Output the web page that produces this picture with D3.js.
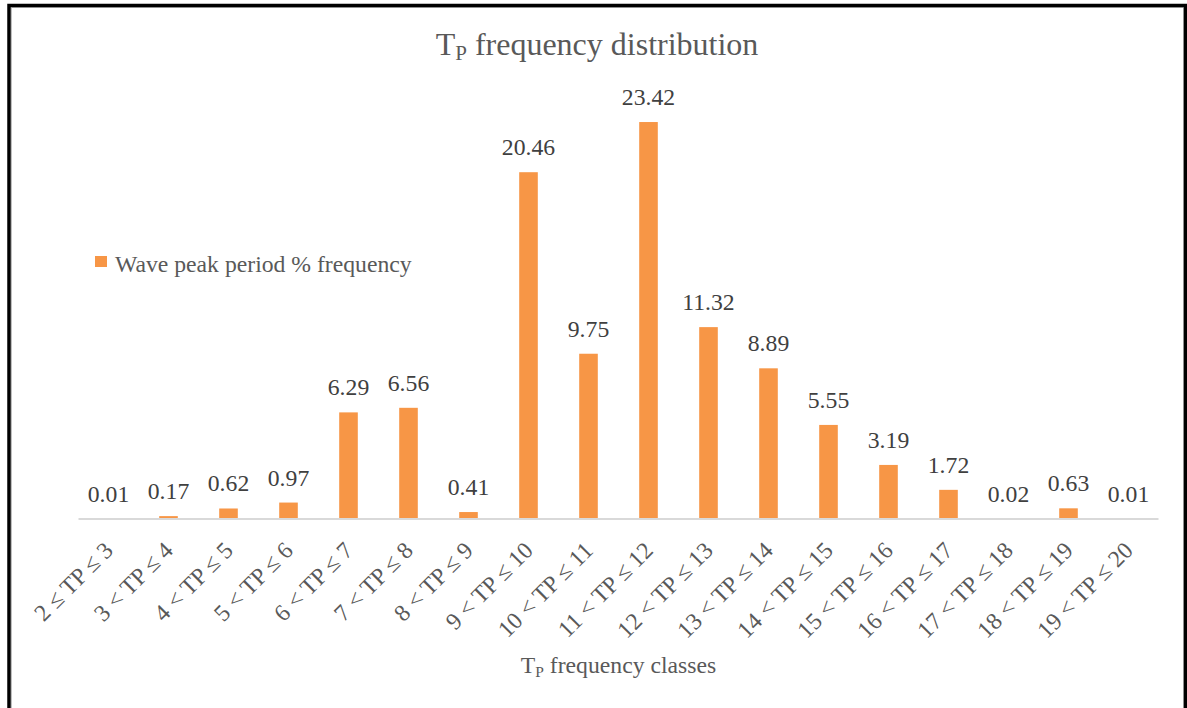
<!DOCTYPE html>
<html>
<head>
<meta charset="utf-8">
<script src="https://cdn.jsdelivr.net/npm/d3@7"></script>
<style>
  html, body { margin: 0; padding: 0; background: #fff; }
  svg { display: block; }
  svg text { font-family: "Liberation Serif", "Times New Roman", Times, serif; }
</style>
</head>
<body>
<svg id="chart" width="1187" height="708"></svg>
<script>
// Wave peak period (Tp) classes and their % frequency
const classes = [
  "2 ≤ TP ≤ 3", "3 < TP ≤ 4", "4 < TP ≤ 5", "5 < TP ≤ 6", "6 < TP ≤ 7",
  "7 < TP ≤ 8", "8 < TP ≤ 9", "9 < TP ≤ 10", "10 < TP ≤ 11", "11 < TP ≤ 12",
  "12 < TP ≤ 13", "13 < TP ≤ 14", "14 < TP ≤ 15", "15 < TP ≤ 16", "16 < TP ≤ 17",
  "17 < TP ≤ 18", "18 < TP ≤ 19", "19 < TP ≤ 20"
];
const frequency = [
  0.01, 0.17, 0.62, 0.97, 6.29,
  6.56, 0.41, 20.46, 9.75, 23.42,
  11.32, 8.89, 5.55, 3.19, 1.72,
  0.02, 0.63, 0.01
];
const seriesName = "Wave peak period % frequency";

const FONT = "'Liberation Serif', 'Times New Roman', Times, serif";
const svg = d3.select("#chart");
const W = 1187, H = 708;
const plot = { left: 78.5, right: 1158.5, top: 95.25, bottom: 519 };
const barColor = "#f79646";
const textGrey = "#595959";
const labelDark = "#404040";
const fs = 23.7;

// outer frame
svg.append("rect").attr("x", 0).attr("y", 0).attr("width", W).attr("height", H).attr("fill", "#fff");
svg.append("path")
  .attr("d", `M11.5,${H} V7.5 H1183.5 V${H}`)
  .attr("fill", "none").attr("stroke", "#bfbfbf").attr("stroke-width", 1);
svg.append("path")
  .attr("d", `M9,${H} V5.5 H1185.5 V${H}`)
  .attr("fill", "none").attr("stroke", "#000").attr("stroke-width", 3.5);

const x = d3.scaleBand().domain(classes).range([plot.left, plot.right]).paddingInner(0.69).paddingOuter(0.345);
const y = d3.scaleLinear().domain([0, 25]).range([plot.bottom, plot.top]);

// title
const title = svg.append("text")
  .attr("x", 597).attr("y", 55)
  .attr("text-anchor", "middle")
  .attr("font-family", FONT)
  .attr("fill", textGrey)
  .attr("font-size", 32);
title.append("tspan").text("T");
title.append("tspan").attr("font-size", 21).attr("dy", 5).text("P");
title.append("tspan").attr("dy", -5).text(" frequency distribution");

// bars
svg.append("g").selectAll("rect")
  .data(frequency)
  .join("rect")
  .attr("x", (d, i) => x(classes[i]))
  .attr("width", x.bandwidth())
  .attr("y", d => y(d))
  .attr("height", d => y(0) - y(d))
  .attr("fill", barColor);

// value labels
svg.append("g").selectAll("text")
  .data(frequency)
  .join("text")
  .attr("x", (d, i) => x(classes[i]) + x.bandwidth() / 2)
  .attr("y", d => y(d) - 17)
  .attr("text-anchor", "middle")
  .attr("font-family", FONT)
  .attr("font-size", fs)
  .attr("fill", labelDark)
  .text(d => d.toFixed(2));

// x axis
const xAxis = svg.append("g")
  .attr("transform", `translate(0,${plot.bottom})`)
  .call(d3.axisBottom(x).tickSize(0).tickSizeOuter(0));
xAxis.attr("font-family", FONT);
xAxis.select(".domain").attr("stroke", "#d9d9d9").attr("stroke-width", 2)
  .attr("d", `M${plot.left},0H${plot.right}`);
xAxis.selectAll(".tick text")
  .attr("font-family", FONT)
  .attr("font-size", fs)
  .attr("fill", textGrey)
  .attr("text-anchor", "end")
  .attr("x", 0).attr("y", 0).attr("dy", "0.35em")
  .attr("transform", "translate(0,27) rotate(-45)");

// axis title
const xt = svg.append("text")
  .attr("x", (plot.left + plot.right) / 2).attr("y", 673)
  .attr("text-anchor", "middle")
  .attr("font-family", FONT)
  .attr("fill", textGrey)
  .attr("font-size", fs);
xt.append("tspan").text("T");
xt.append("tspan").attr("font-size", 15.5).attr("dy", 4).text("P");
xt.append("tspan").attr("dy", -4).text(" frequency classes");

// legend
const lg = svg.append("g").attr("transform", "translate(95,256)");
lg.append("rect").attr("width", 12).attr("height", 11).attr("fill", barColor);
lg.append("text").attr("x", 20).attr("y", 15.5)
  .attr("font-family", FONT)
  .attr("font-size", fs).attr("fill", textGrey)
  .text(seriesName);
</script>
</body>
</html>
